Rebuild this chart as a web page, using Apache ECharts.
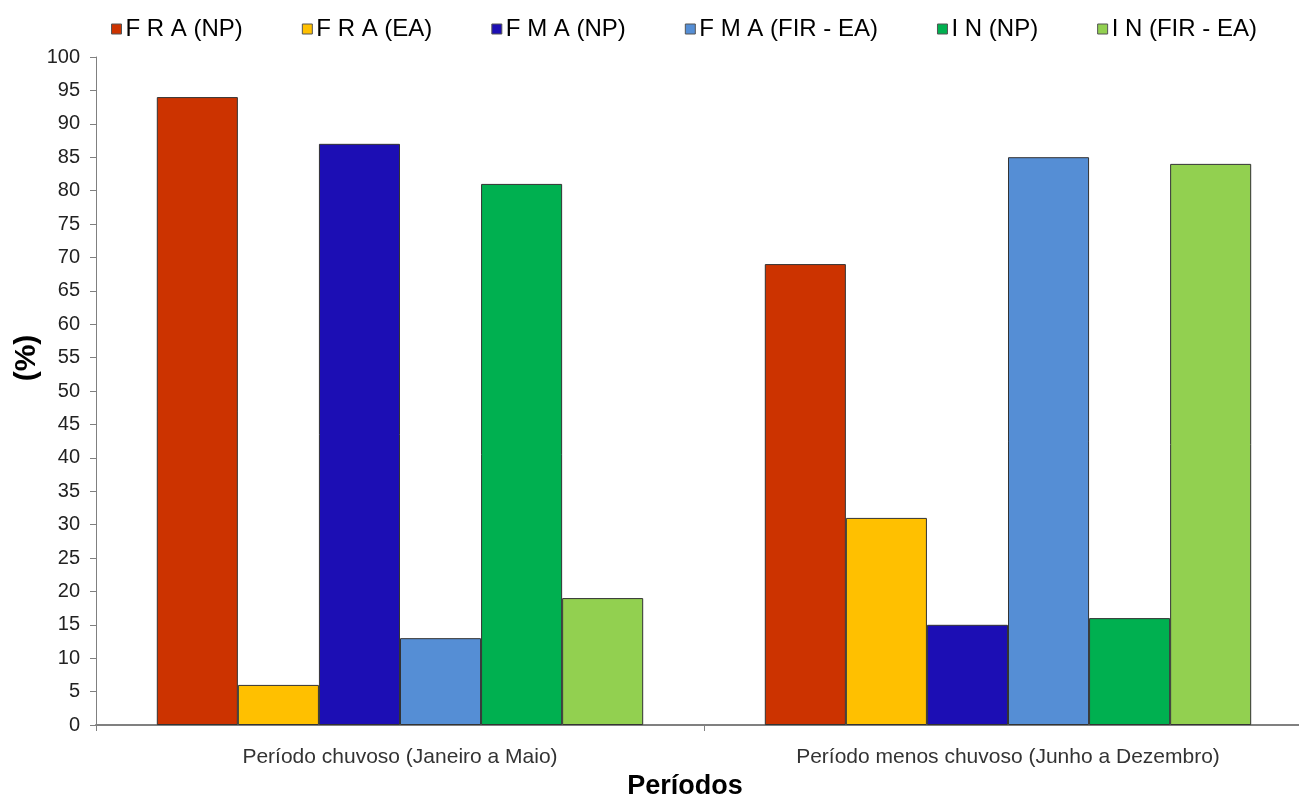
<!DOCTYPE html>
<html><head><meta charset="utf-8">
<script src="https://cdn.jsdelivr.net/npm/echarts@6/dist/echarts.min.js"></script>
<style>html,body{margin:0;padding:0;background:#fff}#c{width:1299px;height:796px}</style>
</head><body><div id="c"></div>
<script>
const categories = ['Período chuvoso (Janeiro a Maio)', 'Período menos chuvoso (Junho a Dezembro)'];
const seriesNames = ['F R A (NP)', 'F R A (EA)', 'F M A (NP)', 'F M A (FIR - EA)', 'I N (NP)', 'I N (FIR - EA)'];
const fraNP = [94, 69];
const fraEA = [6, 31];
const fmaNP = [87, 15];
const fmaFIR = [13, 85];
const inNP = [81, 16];
const inFIR = [19, 84];
const colors = ['#CC3300', '#FFC000', '#1C0EB4', '#558ED5', '#00B050', '#92D050'];
const values = [fraNP, fraEA, fmaNP, fmaFIR, inNP, inFIR];
const yTitle = '(%)';
const xTitle = 'Períodos';

const FONT = 'Liberation Sans';
const chart = echarts.init(document.getElementById('c'), null, {renderer: 'canvas'});
chart.setOption({
  animation: false,
  textStyle: {fontFamily: FONT},
  title: {
    text: xTitle, left: 685, top: 773, textAlign: 'center', padding: 0,
    textStyle: {fontSize: 27, fontWeight: 'bold', color: '#000', fontFamily: FONT}
  },
  graphic: [{
    type: 'text', x: 27, y: 358, rotation: Math.PI / 2,
    style: {text: yTitle, font: 'bold 30px "Liberation Sans"', fill: '#000', textAlign: 'center', textVerticalAlign: 'middle'}
  }],
  legend: {
    top: 12, left: 106,
    itemWidth: 10, itemHeight: 10, itemGap: 59,
    icon: 'rect',
    textStyle: {fontSize: 24, color: '#000', fontFamily: FONT, padding: [0, 0, 0, -1]},
    data: seriesNames.map((n, i) => ({name: n, itemStyle: {borderColor: '#555', borderWidth: 1}}))
  },
  grid: {left: 96, top: 57, width: 1216, bottom: 71, containLabel: false, outerBoundsMode: 'none'},
  xAxis: {
    type: 'category', data: categories,
    boundaryGap: true,
    axisLine: {lineStyle: {color: '#808080', width: 2}},
    axisTick: {show: true, length: 6, lineStyle: {color: '#808080'}},
    axisLabel: {fontSize: 21, color: '#333', margin: 22, fontFamily: FONT}
  },
  yAxis: {
    type: 'value', min: 0, max: 100, interval: 5,
    axisLine: {show: true, lineStyle: {color: '#808080'}},
    axisTick: {show: true, length: 6, lineStyle: {color: '#808080'}},
    splitLine: {show: false},
    axisLabel: {fontSize: 20, color: '#222', margin: 16, fontFamily: FONT}
  },
  series: values.map((v, i) => ({
    name: seriesNames[i], type: 'bar', data: v,
    barGap: '0%', barCategoryGap: '20%',
    itemStyle: {color: colors[i], borderColor: '#333', borderWidth: 1}
  }))
});
</script></body></html>
